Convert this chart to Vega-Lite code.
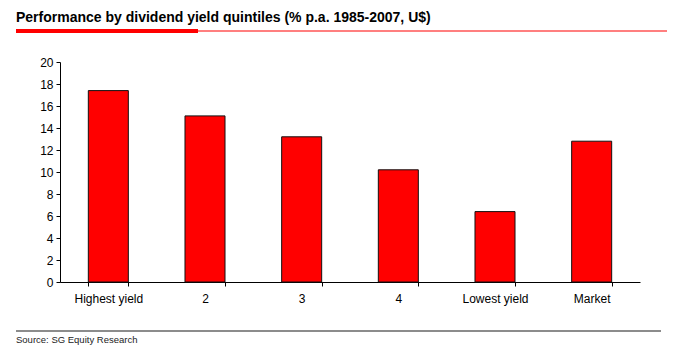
{
  "$schema": "https://vega.github.io/schema/vega-lite/v6.json",
  "autosize": {"type": "pad"},
  "padding": {"left": 16, "top": 11, "right": 0, "bottom": 0},
  "background": "white",
  "title": {
    "text": "Performance by dividend yield quintiles (% p.a. 1985-2007, U$)",
    "anchor": "start",
    "font": "Liberation Sans",
    "fontSize": 14,
    "fontWeight": "bold",
    "color": "#000000",
    "baseline": "alphabetic",
    "offset": -7
  },
  "config": {
    "view": {"stroke": null},
    "font": "Liberation Sans"
  },
  "spacing": 0,
  "bounds": "flush",
  "vconcat": [
    {
      "hconcat": [
        {
          "width": 182, "height": 4,
          "view": {"fill": "#ff0000", "stroke": null},
          "data": {"values": []},
          "mark": "rule",
          "encoding": {}
        },
        {
          "width": 469, "height": 1,
          "view": {"fill": "#ff0000", "stroke": null},
          "data": {"values": []},
          "mark": "rule",
          "encoding": {}
        }
      ],
      "spacing": 0,
      "bounds": "flush",
      "center": true
    },
    {
      "width": 1, "height": 33,
      "data": {"values": []},
      "mark": "rule",
      "encoding": {}
    },
    {
      "hconcat": [
        {
          "width": 44, "height": 220,
          "data": {"values": []},
          "mark": "rule",
          "encoding": {}
        },
        {
          "width": 580,
          "height": 220,
          "data": {
            "values": [
              {"quintile": "Highest yield", "return": 17.4},
              {"quintile": "2", "return": 15.1},
              {"quintile": "3", "return": 13.2},
              {"quintile": "4", "return": 10.2},
              {"quintile": "Lowest yield", "return": 6.4},
              {"quintile": "Market", "return": 12.8}
            ]
          },
          "mark": {"type": "bar", "fill": "#ff0000", "stroke": "#111111", "strokeWidth": 1},
          "encoding": {
            "x": {
              "field": "quintile",
              "type": "nominal",
              "sort": null,
              "scale": {"paddingInner": 0.586, "paddingOuter": 0.293},
              "axis": {
                "title": null,
                "labelAngle": 0,
                "tickBand": "extent",
                "tickSize": 4,
                "tickColor": "#000000",
                "domainColor": "#000000",
                "labelColor": "#000000",
                "labelFontSize": 12,
                "labelPadding": 7
              }
            },
            "y": {
              "field": "return",
              "type": "quantitative",
              "scale": {"domain": [0, 20], "nice": false},
              "axis": {
                "title": null,
                "values": [0, 2, 4, 6, 8, 10, 12, 14, 16, 18, 20],
                "grid": false,
                "tickSize": 4,
                "tickColor": "#000000",
                "domainColor": "#000000",
                "labelColor": "#000000",
                "labelFontSize": 12,
                "labelPadding": 3
              }
            }
          }
        }
      ],
      "spacing": 0,
      "bounds": "flush"
    },
    {
      "width": 1, "height": 268,
      "data": {"values": []},
      "mark": "rule",
      "encoding": {}
    },
    {
      "width": 645, "height": 2,
      "view": {"fill": "#8c8c8c", "stroke": null},
      "data": {"values": []},
      "mark": "rule",
      "encoding": {},
      "title": {
        "text": "Source: SG Equity Research",
        "orient": "bottom",
        "anchor": "start",
        "fontSize": 9.5,
        "fontWeight": "normal",
        "color": "#222222",
        "offset": 3
      }
    }
  ]
}
